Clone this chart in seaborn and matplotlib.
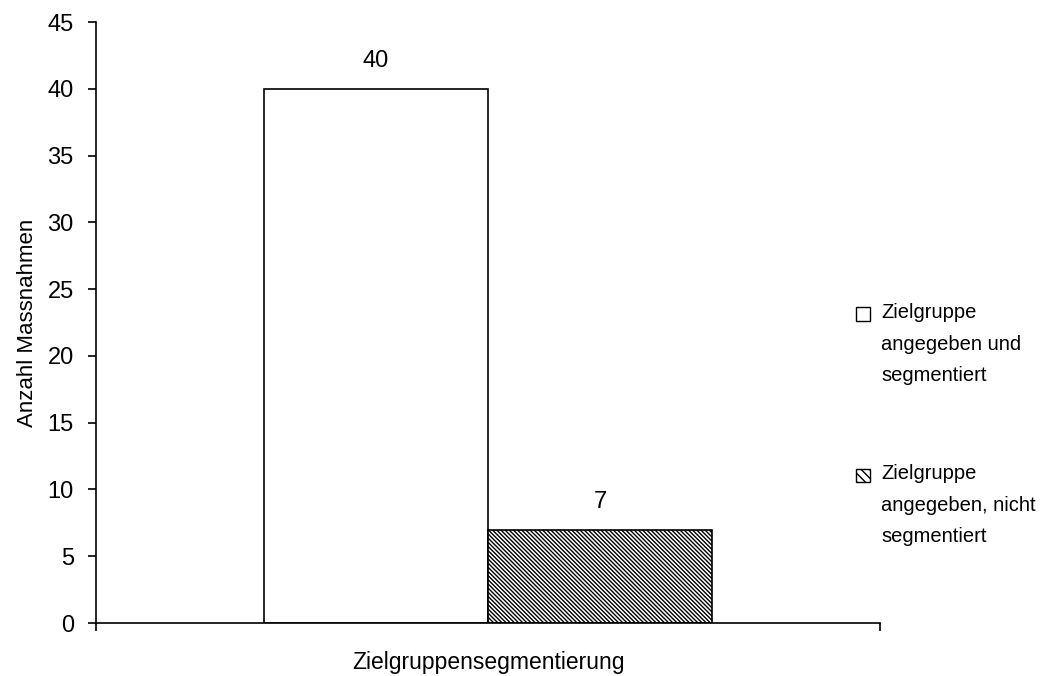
#importing libraries
import numpy as np
import pandas as pd
import matplotlib
matplotlib.use('Agg')
import matplotlib.pyplot as plt
from matplotlib.patches import Rectangle
from matplotlib.legend_handler import HandlerPatch
import seaborn as sns

#data
category = 'Zielgruppensegmentierung'
gruppen = ['Zielgruppe\nangegeben und\nsegmentiert', 'Zielgruppe\nangegeben, nicht\nsegmentiert']
anzahl = [40, 7]

df = pd.DataFrame({'Kategorie': [category] * len(gruppen), 'Gruppe': gruppen, 'Anzahl': anzahl})

sns.set_style('ticks')
plt.rcParams['font.family'] = ['Liberation Sans', 'DejaVu Sans']
plt.rcParams['text.color'] = 'black'
plt.rcParams['axes.labelcolor'] = 'black'
plt.rcParams['hatch.linewidth'] = 1.0
plt.rcParams['hatch.color'] = '#222222'

fig = plt.figure(figsize=(10.53, 6.76), dpi=100)
ax = fig.add_axes([0.0912, 0.0784, 0.7445, 0.889])

sns.barplot(data=df, x='Kategorie', y='Anzahl', hue='Gruppe', hue_order=gruppen,
            palette=['white', 'white'], width=0.5714, gap=0, edgecolor='black',
            linewidth=1.2, saturation=1, ax=ax)

hatch = '\\' * 8
#hatch on the second bar
ax.patches[1].set_hatch(hatch)

#value labels above bars
for container in ax.containers:
    ax.bar_label(container, fmt='%d', padding=12, fontsize=17, color='black')

ax.set_ylim(0, 45)
ax.set_yticks(np.arange(0, 46, 5))
ax.set_xlim(-0.5, 0.5)
ax.set_xticks([-0.5, 0.5])
ax.set_xticklabels(['', ''])
ax.tick_params(axis='both', direction='out', length=6, width=1.2, labelsize=17,
               colors='black', pad=7)
ax.tick_params(axis='y', pad=10)
ax.set_ylabel('Anzahl Massnahmen', fontsize=16, labelpad=7)
ax.set_xlabel(category, fontsize=16.5, labelpad=7)
for s in ['left', 'bottom']:
    ax.spines[s].set_linewidth(1.2)
    ax.spines[s].set_color('black')
sns.despine(ax=ax)


#legend marker sits next to the first text line
def top_square(legend, orig_handle, xdescent, ydescent, width, height, fontsize):
    return Rectangle((-xdescent, -ydescent + 1.5 * fontsize), width, height)


leg = ax.legend(loc='center left', bbox_to_anchor=(0.957, 0.33), frameon=False,
                fontsize=14.5, handlelength=0.68, handleheight=0.68, handletextpad=0.55,
                labelspacing=3.9, borderpad=0, alignment='left',
                handler_map={matplotlib.patches.Rectangle: HandlerPatch(patch_func=top_square)})
for h in leg.legend_handles:
    h.set_edgecolor('black')
    h.set_facecolor('white')
    h.set_linewidth(1.0)
leg.legend_handles[1].set_hatch('\\' * 4)
for t in leg.get_texts():
    t.set_linespacing(1.85)
    t.set_color('black')

fig.savefig('out.png', dpi=100)
